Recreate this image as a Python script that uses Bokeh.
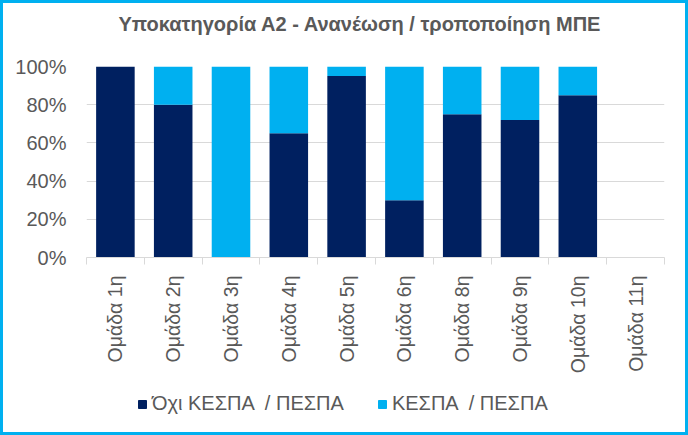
import math
from bokeh.plotting import figure
from bokeh.layouts import column
from bokeh.models import (ColumnDataSource, Range1d, FixedTicker, NumeralTickFormatter,
                          Legend, LegendItem, Title)
from bokeh.embed import file_html
from bokeh.resources import INLINE

categories = ["Ομάδα 1η", "Ομάδα 2η", "Ομάδα 3η", "Ομάδα 4η", "Ομάδα 5η",
              "Ομάδα 6η", "Ομάδα 8η", "Ομάδα 9η", "Ομάδα 10η", "Ομάδα 11η"]
no_kespa = [1.00, 0.80, 0.00, 0.65, 0.95, 0.30, 0.75, 0.72, 0.85, 0.00]
kespa = [0.00, 0.20, 1.00, 0.35, 0.05, 0.70, 0.25, 0.28, 0.15, 0.00]
series_names = ["Όχι ΚΕΣΠΑ  / ΠΕΣΠΑ", "ΚΕΣΠΑ  / ΠΕΣΠΑ"]
y_ticks = [0, 0.2, 0.4, 0.6, 0.8, 1.0]
title_text = "Υποκατηγορία Α2 - Ανανέωση / τροποποίηση ΜΠΕ"

DARK = "#002060"
CYAN = "#00B0F0"
GRAY = "#595959"
GRID = "#D9D9D9"
FONT = "Liberation Sans"

n = len(categories)
centers = [i + 0.5 for i in range(n)]
bounds = [float(i) for i in range(n + 1)]

src = ColumnDataSource(dict(x=centers, no=no_kespa, yes=kespa))

W = 682
H1 = 382
H2 = 47

p = figure(width=W, height=H1, output_backend="svg", toolbar_location=None,
           x_range=Range1d(0, n), y_range=Range1d(0, 1),
           min_border_left=83, min_border_right=21, min_border_top=63,
           min_border_bottom=H1 - 254)
p.outline_line_color = None

p.vbar_stack(["no", "yes"], x="x", width=0.667, color=[DARK, CYAN],
             line_color=None, source=src)

# title (with an empty spacer title between it and the plot area)
title = Title(text=title_text, text_font=FONT, text_font_size="20px",
              text_font_style="bold", text_color=GRAY, align="left", offset=32,
              standoff=10)
spacer = Title(text=" ", text_font=FONT, text_font_size="11px", standoff=13)
p.title = None
p.above = [spacer, title]

# y axis
p.yaxis.ticker = FixedTicker(ticks=y_ticks)
p.yaxis.formatter = NumeralTickFormatter(format="0%")
p.yaxis.axis_line_color = None
p.yaxis.major_tick_line_color = None
p.yaxis.minor_tick_line_color = None
p.yaxis.major_label_text_font = FONT
p.yaxis.major_label_text_font_size = "20px"
p.yaxis.major_label_text_color = GRAY
p.yaxis.major_label_standoff = 14

# x axis
p.xaxis.ticker = FixedTicker(ticks=centers, minor_ticks=bounds)
p.xaxis.major_label_overrides = {c: name for c, name in zip(centers, categories)}
p.xaxis.major_label_orientation = math.pi / 2
p.xaxis.axis_line_color = GRID
p.xaxis.major_tick_out = 0
p.xaxis.major_tick_in = 0
p.xaxis.minor_tick_out = 7
p.xaxis.minor_tick_in = 0
p.xaxis.minor_tick_line_color = GRID
p.xaxis.major_label_text_font = FONT
p.xaxis.major_label_text_font_size = "19.5px"
p.xaxis.major_label_text_color = GRAY
p.xaxis.major_label_standoff = 11

# grid
p.xgrid.grid_line_color = None
p.ygrid.ticker = FixedTicker(ticks=y_ticks)
p.ygrid.grid_line_color = GRID

# legend in its own strip below the chart
lf = figure(width=W, height=H2, output_backend="svg", toolbar_location=None,
            x_range=Range1d(0, 1), y_range=Range1d(0, 1),
            x_axis_type=None, y_axis_type=None,
            min_border_left=0, min_border_right=0, min_border_top=0, min_border_bottom=0)
lf.outline_line_color = None
lf.xgrid.grid_line_color = None
lf.ygrid.grid_line_color = None
r1 = lf.rect(x=[5], y=[5], width=1, height=1, color=DARK)
r2 = lf.rect(x=[5], y=[5], width=1, height=1, color=CYAN)
lg = Legend(items=[LegendItem(label=series_names[0], renderers=[r1]),
                   LegendItem(label=series_names[1], renderers=[r2])])
lg.orientation = "horizontal"
lg.location = (51, 17)
lg.padding = 0
lg.margin = 0
lg.spacing = 33
lg.glyph_width = 10
lg.glyph_height = 10
lg.label_standoff = 5
lg.label_text_font = FONT
lg.label_text_font_size = "20px"
lg.label_text_color = GRAY
lg.border_line_color = None
lg.background_fill_alpha = 0
lf.add_layout(lg, "center")

layout = column(p, lf, spacing=0)
layout.styles = {"border": "3px solid " + CYAN}

open("out.html", "w").write(file_html(layout, INLINE))
